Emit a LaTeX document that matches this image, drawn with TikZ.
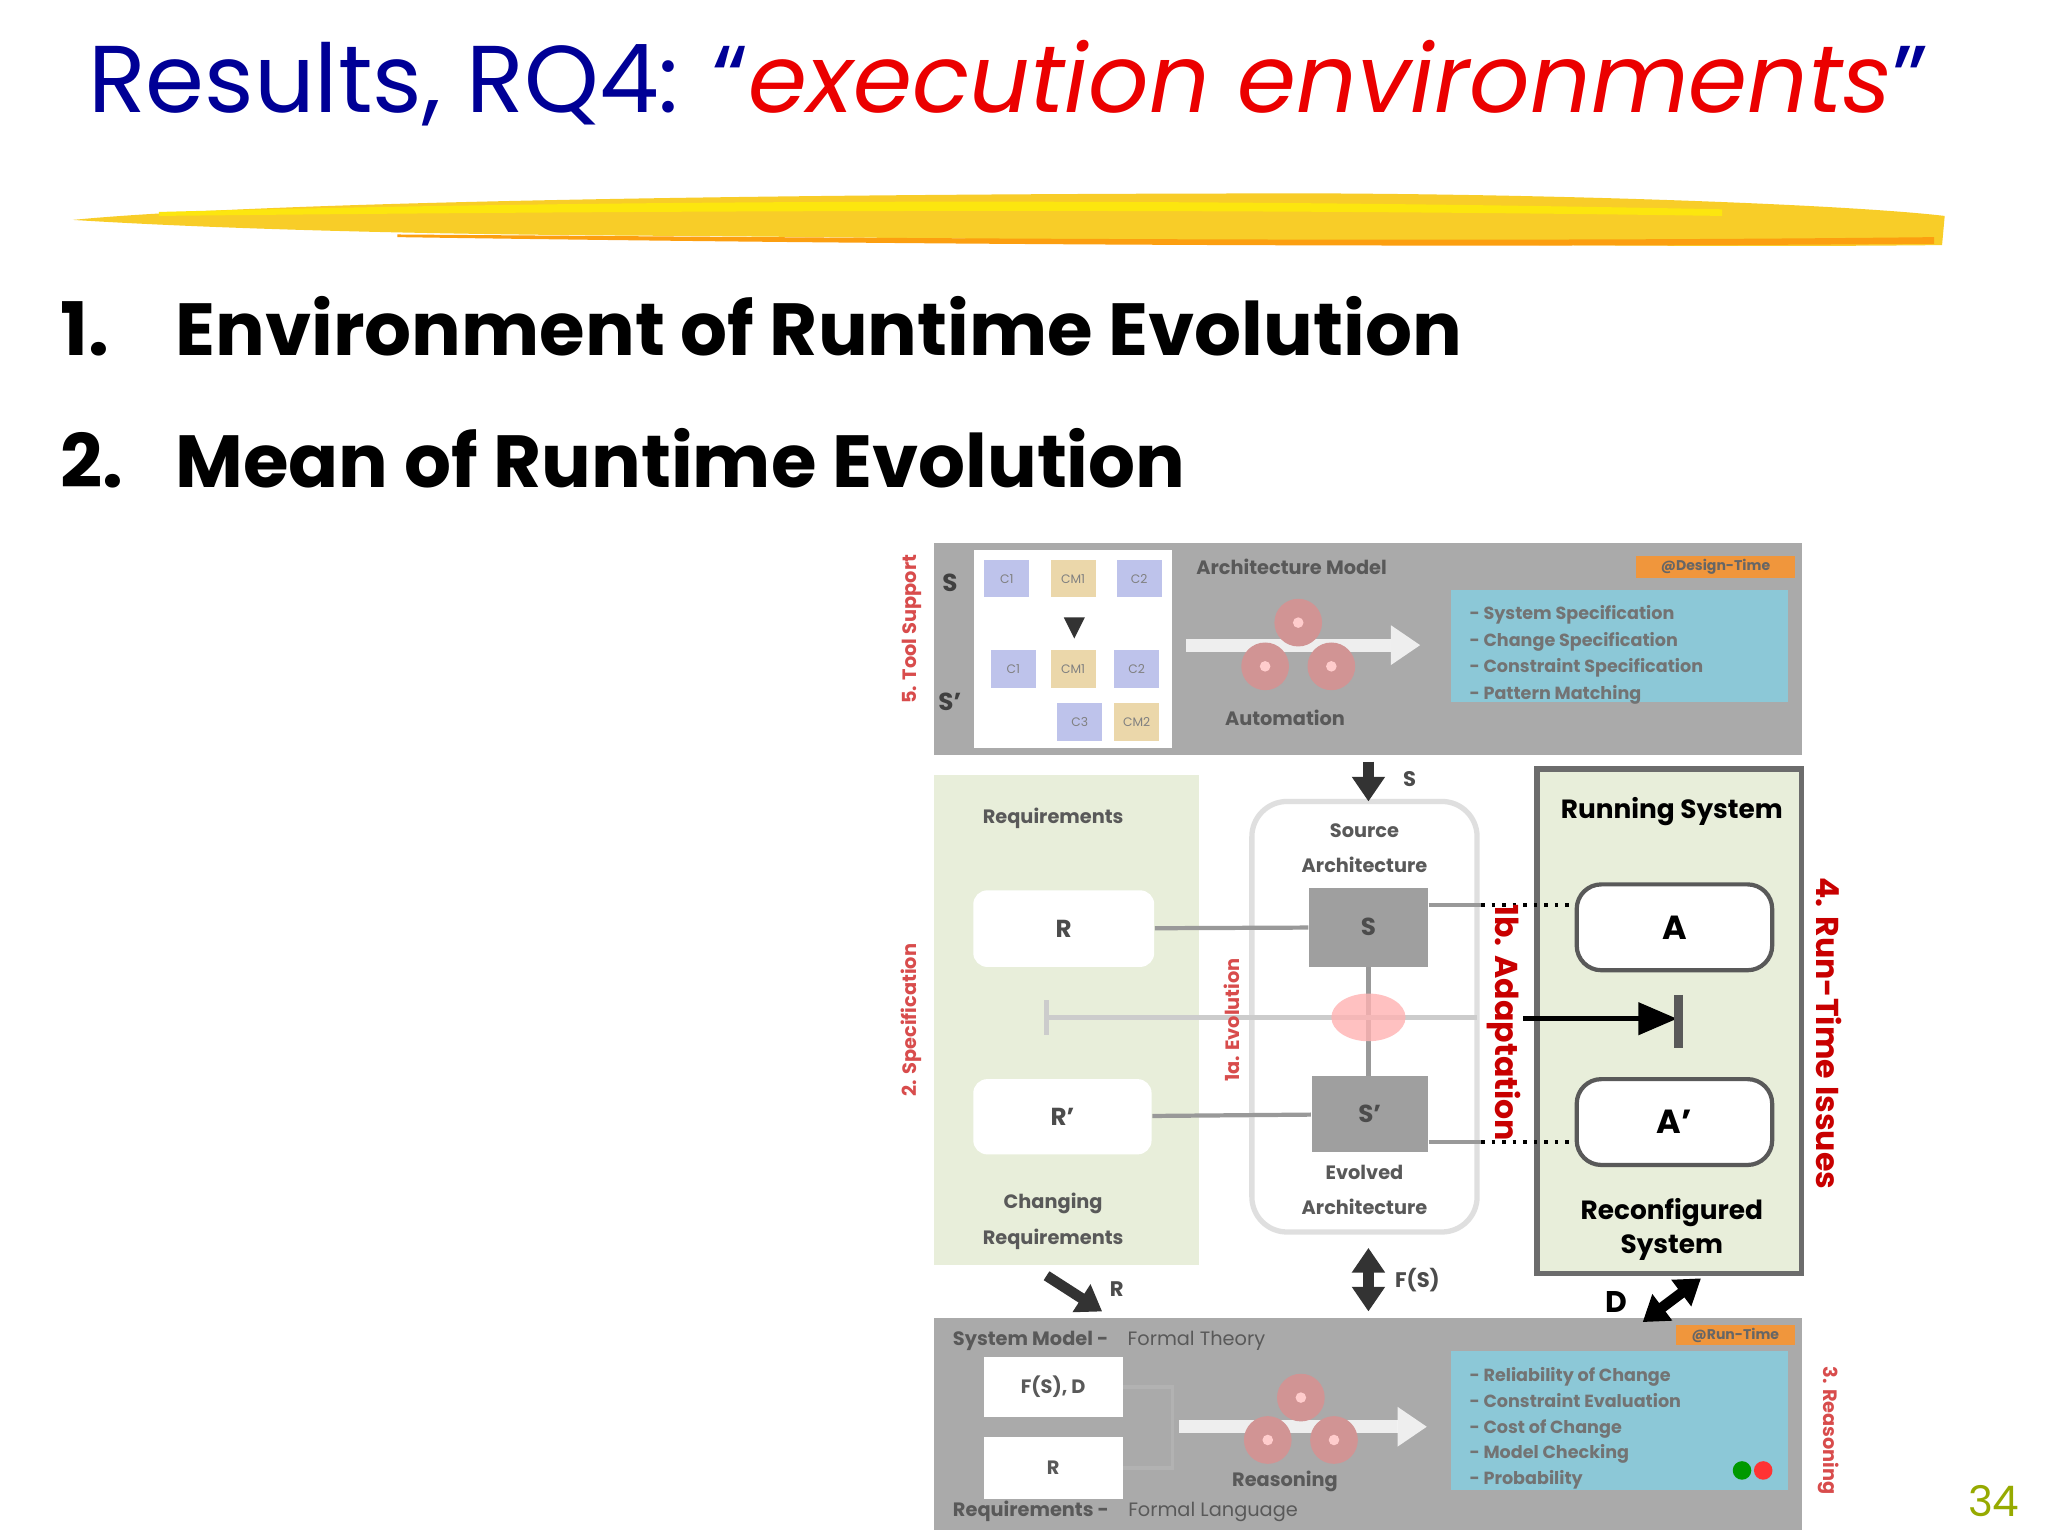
\documentclass[tikz,border=0pt]{standalone}
\usepackage{fontspec}
\setmainfont{Poppins}
\usetikzlibrary{arrows.meta,shapes.geometric}
\definecolor{tblue}{RGB}{0,0,150}
\definecolor{tred}{RGB}{235,0,0}
\definecolor{gbox}{RGB}{170,170,170}
\definecolor{lgreen}{RGB}{232,238,218}
\definecolor{cyanb}{RGB}{140,200,215}
\definecolor{orangeb}{RGB}{240,150,60}
\definecolor{rlab}{RGB}{200,0,0}
\definecolor{pgn}{RGB}{150,170,0}
\definecolor{sqb}{RGB}{190,195,235}
\definecolor{sqy}{RGB}{235,215,170}
\definecolor{brush}{RGB}{248,205,40}
\tikzset{
  graybox/.style={fill=gbox,draw=none},
  wbox/.style={fill=white,draw=none,rounded corners=4},
  sbox/.style={fill=gray!75,draw=none},
  tiny/.style={font=\fontsize{5.5}{6}\selectfont\bfseries,text=black!65},
  redlab/.style={font=\fontsize{9}{10}\selectfont\bfseries,text=rlab},
  redsm/.style={font=\fontsize{5.5}{6}\selectfont\bfseries,text=rlab!70},
  abox/.style={draw=gray!70!black,line width=1.2pt,fill=white,rounded corners=7},
  rs/.style={font=\fontsize{7.5}{9.5}\selectfont\bfseries,align=center},
  conn/.style={draw=gray!80,line width=1.2pt},
  dotc/.style={dotted,line width=1pt},
  sz/.style 2 args={minimum width=#1*0.3757pt,minimum height=#2*0.3757pt,inner sep=0pt},
}
\begin{document}
\begin{tikzpicture}[x=0.013247cm,y=-0.013247cm]
\useasboundingbox (0,0) rectangle (1546,1160);
\fill[white] (0,0) rectangle (1546,1160);
% title
\node[anchor=base west,inner sep=0,font=\fontsize{27}{30}\selectfont] (title) at (66,85)
 {\textcolor{tblue}{Results, RQ4: “}\textcolor{tred}{\itshape execution environments}\textcolor{tblue}{”}};
% brush stroke
\fill[brush] (55,166) .. controls (200,152) and (600,146) .. (1000,146) .. controls (1200,147) and (1400,155) .. (1468,163)
 -- (1466,185) .. controls (1200,188) and (800,180) .. (500,178) .. controls (300,177) and (150,172) .. (55,166) -- cycle;
\fill[yellow!70!brush] (120,160) .. controls (500,150) and (900,150) .. (1300,158) -- (1300,163) .. controls (900,157) and (500,159) .. (120,163) -- cycle;
\fill[orange!60!brush] (300,177) .. controls (700,180) and (1100,183) .. (1460,179) -- (1460,184) .. controls (1100,187) and (700,185) .. (300,179) -- cycle;
% bullets
\node[anchor=base west,inner sep=0,font=\fontsize{21}{25}\selectfont\bfseries] (b1) at (45,268) {1.};
\node[anchor=base west,inner sep=0,font=\fontsize{21}{25}\selectfont\bfseries] (b1t) at (132,268) {Environment of Runtime Evolution};
\node[anchor=base west,inner sep=0,font=\fontsize{21}{25}\selectfont\bfseries] (b2) at (45,368) {2.};
\node[anchor=base west,inner sep=0,font=\fontsize{21}{25}\selectfont\bfseries] (b2t) at (132,368) {Mean of Runtime Evolution};
\node[font=\fontsize{12}{14}\selectfont,text=pgn] (pg) at (1505,1133) {34};
% ---------- top box
\fill[graybox] (705,410) rectangle (1360,570);
\fill[white] (735,415) rectangle (885,565);
\foreach \x/\y/\c/\t in {760/437/sqb/C1,810/437/sqy/CM1,860/437/sqb/C2,765/505/sqb/C1,810/505/sqy/CM1,858/505/sqb/C2,815/545/sqb/C3,858/545/sqy/CM2}
  {\fill[\c] (\x-17,\y-14) rectangle (\x+17,\y+14); \node[font=\fontsize{3.5}{4}\selectfont,text=black!50] at (\x,\y) {\t};}
\fill[black!80] (803,466) -- (819,466) -- (811,482) -- cycle;
\node[font=\fontsize{7}{8}\selectfont\bfseries,text=black!75] (s1) at (717,440) {S};
\node[font=\fontsize{7}{8}\selectfont\bfseries,text=black!75] (s2) at (717,530) {S'};
\node[tiny] (am) at (975,428) {Architecture Model};
\fill[orangeb] (1235,420) rectangle (1355,436);
\node[font=\fontsize{4}{5}\selectfont\bfseries,text=black!60] (dt) at (1295,428) {@Design-Time};
\fill[cyanb] (1095,445) rectangle (1350,530);
\node[anchor=north west,align=left,font=\fontsize{5}{7.5}\selectfont\bfseries,text=black!55] (tl) at (1100,448)
 {- System Specification\\- Change Specification\\- Constraint Specification\\- Pattern Matching};
\fill[white,opacity=0.8] (895,482) rectangle (1050,492);
\fill[white,opacity=0.8] (1050,472) -- (1072,487) -- (1050,502) -- cycle;
\foreach \x/\y in {980/470,955/503,1005/503}
  {\fill[red!40!gray!60] (\x,\y) circle (18); \fill[red!20!white] (\x,\y) circle (4);}
\node[tiny] (au) at (970,542) {Automation};
\node[redsm,rotate=90] (ts) at (688,475) {5. Tool Support};
% ---------- requirements
\fill[lgreen] (705,585) rectangle (905,955);
\node[tiny] (rq) at (795,618) {Requirements};
\node[wbox,sz={137}{58}] (R) at (803,701) {};
\node[font=\fontsize{7}{8}\selectfont\bfseries,text=black!70] at (R) {R};
\node[wbox,sz={135}{57}] (R2) at (802,843) {};
\node[font=\fontsize{7}{8}\selectfont\bfseries,text=black!70] at (R2) {R'};
\node[tiny,align=center,font=\fontsize{5.5}{10}\selectfont\bfseries] (cr) at (795,922) {Changing\\Requirements};
\node[redsm,rotate=90] (sp) at (688,770) {2. Specification};
% ---------- architecture
\draw[gray!25,line width=1.5pt,fill=white,rounded corners=10] (945,605) rectangle (1115,930);
\node[tiny,align=center,font=\fontsize{5.5}{10}\selectfont\bfseries] (sa) at (1030,640) {Source\\Architecture};
\node[tiny,align=center,font=\fontsize{5.5}{10}\selectfont\bfseries] (ea) at (1030,898) {Evolved\\Architecture};
\draw[conn] (1033,700) -- (1033,841);
\draw[conn,gray!40] (790,768) -- (1115,768);
\draw[conn,gray!40] (790,755) -- (790,781);
\fill[red!30!white,opacity=0.8] (1033,768) ellipse (28 and 18);
\node[sbox,sz={90}{60}] (S) at (1033,700) {};
\node[font=\fontsize{7}{8}\selectfont\bfseries,text=black!70] at (S) {S};
\node[sbox,sz={88}{58}] (S2) at (1034,841) {};
\node[font=\fontsize{7}{8}\selectfont\bfseries,text=black!70] at (S2) {S'};
\draw[conn] (R) -- (S);
\draw[conn] (R2) -- (S2);
\node[redsm,rotate=90] (ev) at (930,770) {1a. Evolution};
% ---------- running system
\node[draw=gray!85!black,line width=1.5pt,fill=lgreen,sz={200}{382}] (RS) at (1260,771) {};
\node[rs] (rst) at (1262,613) {Running System};
\node[rs] (rct) at (1262,928) {Reconfigured\\System};
\node[abox,sz={148}{65}] (A) at (1264,700) {};
\node[font=\fontsize{9.5}{10}\selectfont\bfseries] at (A) {A};
\node[abox,sz={148}{65}] (A2) at (1264,847) {};
\node[font=\fontsize{9.5}{10}\selectfont\bfseries] at (A2) {A'};
\coordinate (s1e) at (1118,683);
\coordinate (s2e) at (1118,862);
\draw[conn] (S.east |- s1e) -- (s1e);
\draw[conn] (S2.east |- s2e) -- (s2e);
\draw[dotc] (s1e) -- (A.west |- s1e);
\draw[dotc] (s2e) -- (A2.west |- s2e);
\coordinate (arS) at (1150,769);
\coordinate (arE) at (1266,769);
\draw[line width=1.5pt,-{Triangle[length=11pt,width=9pt]}] (arS) -- (arE);
\draw[gray!70!black,line width=2.5pt] (1267,751) -- (1267,791);
\node[redlab,rotate=-90] (ad) at (1135,772) {1b. Adaptation};
\node[redlab,rotate=-90] (rti) at (1381,780) {4. Run-Time Issues};
% ---------- bottom box
\fill[graybox] (705,995) rectangle (1360,1155);
\node[tiny,anchor=west] (smt) at (710,1012) {System Model -\quad\mdseries Formal Theory};
\node[tiny,anchor=west] (rqt) at (710,1141) {Requirements -\quad\mdseries Formal Language};
\node[fill=white,sz={105}{45}] (FS) at (795,1047) {};
\node[tiny] at (FS) {F(S), D};
\node[fill=white,sz={105}{47}] (RB) at (795,1108) {};
\node[tiny] at (RB) {R};
\draw[gray!60,line width=1pt] (FS.east) -- (885,1047) -- (885,1108) -- (RB.east);
\fill[white,opacity=0.8] (890,1072) rectangle (1055,1082);
\fill[white,opacity=0.8] (1055,1062) -- (1077,1077) -- (1055,1092) -- cycle;
\foreach \x/\y in {982/1055,957/1087,1007/1087}
  {\fill[red!40!gray!60] (\x,\y) circle (18); \fill[red!20!white] (\x,\y) circle (4);}
\node[tiny] (rn) at (970,1118) {Reasoning};
\fill[orangeb] (1265,1000) rectangle (1355,1015);
\node[font=\fontsize{4}{5}\selectfont\bfseries,text=black!60] (rt) at (1310,1008) {@Run-Time};
\fill[cyanb] (1095,1020) rectangle (1350,1125);
\node[anchor=north west,align=left,font=\fontsize{5}{7.3}\selectfont\bfseries,text=black!55] (bl) at (1100,1023)
 {- Reliability of Change\\- Constraint Evaluation\\- Cost of Change\\- Model Checking\\- Probability};
\fill[green!60!black] (1315,1110) circle (7);
\fill[red!80] (1331,1110) circle (7);
\node[redsm,rotate=-90] (rsn) at (1380,1080) {3. Reasoning};
% ---------- arrows between
\coordinate (sa1) at (1033,575); \coordinate (sa2) at (1033,605);
\draw[line width=3pt,-{Triangle[length=7pt,width=9pt]},black!80] (sa1) -- (sa2);
\node[font=\fontsize{6}{7}\selectfont\bfseries,text=black!70] at (1064,588) {S};
\coordinate (fa1) at (1033,942); \coordinate (fa2) at (1033,990);
\draw[line width=3pt,{Triangle[length=7pt,width=9pt]}-{Triangle[length=7pt,width=9pt]},black!80] (fa1) -- (fa2);
\node[font=\fontsize{6}{7}\selectfont\bfseries,text=black!70] at (1070,966) {F(S)};
\coordinate (ra1) at (790,963); \coordinate (ra2) at (832,990);
\draw[line width=3pt,-{Triangle[length=7pt,width=9pt]},black!80] (ra1) -- (ra2);
\node[font=\fontsize{6}{7}\selectfont\bfseries,text=black!70] at (843,973) {R};
\coordinate (da1) at (1240,998); \coordinate (da2) at (1284,965);
\draw[line width=3pt,{Triangle[length=7pt,width=9pt]}-{Triangle[length=7pt,width=9pt]}] (da1) -- (da2);
\node[font=\fontsize{8.5}{9}\selectfont\bfseries] (Dl) at (1220,983) {D};
\end{tikzpicture}
\end{document}
